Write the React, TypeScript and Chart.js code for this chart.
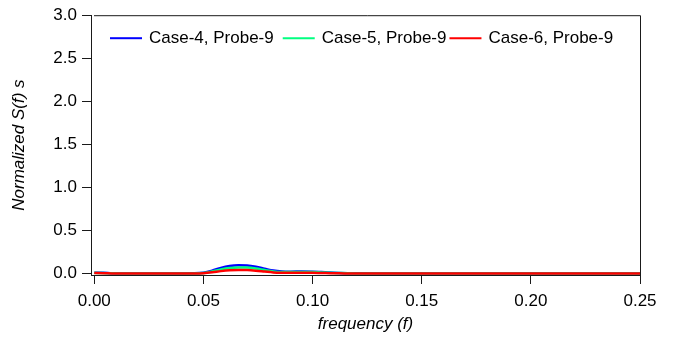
import React, { useEffect, useRef } from 'react';
import { Chart, registerables } from 'chart.js';

Chart.register(...registerables);

const frequency = [0, 0.004, 0.008, 0.012, 0.02, 0.03, 0.04, 0.045, 0.05, 0.054, 0.058, 0.062, 0.066, 0.07, 0.074, 0.078, 0.082, 0.086, 0.09, 0.095, 0.1, 0.104, 0.108, 0.112, 0.116, 0.12, 0.13, 0.15, 0.2, 0.25];
const case4Probe9 = [0.012, 0.01, 0.005, 0.002, 0.001, 0.001, 0.002, 0.004, 0.012, 0.035, 0.068, 0.09, 0.098, 0.095, 0.08, 0.058, 0.036, 0.026, 0.024, 0.025, 0.024, 0.019, 0.013, 0.009, 0.006, 0.004, 0.002, 0.001, 0.001, 0.001];
const case5Probe9 = [0.01, 0.008, 0.004, 0.002, 0.001, 0.001, 0.002, 0.003, 0.009, 0.026, 0.05, 0.066, 0.073, 0.071, 0.06, 0.043, 0.027, 0.02, 0.019, 0.02, 0.019, 0.015, 0.011, 0.008, 0.005, 0.003, 0.002, 0.001, 0.001, 0.001];
const case6Probe9 = [0.008, 0.006, 0.003, 0.001, 0.001, 0.001, 0.001, 0.002, 0.006, 0.016, 0.03, 0.04, 0.044, 0.042, 0.035, 0.025, 0.015, 0.011, 0.01, 0.011, 0.01, 0.008, 0.006, 0.004, 0.003, 0.002, 0.001, 0.001, 0.001, 0.001];

const seriesLabels = ['Case-4, Probe-9', 'Case-5, Probe-9', 'Case-6, Probe-9'];
const seriesColors = ['#0000FF', '#00FF80', '#FF0000'];
const seriesValues = [case4Probe9, case5Probe9, case6Probe9];
const legendGaps = [9, 3, 0];

const xTickValues = [0, 0.05, 0.1, 0.15, 0.2, 0.25];
const xTickLabels = ['0.00', '0.05', '0.10', '0.15', '0.20', '0.25'];
const yTickValues = [0, 0.5, 1, 1.5, 2, 2.5, 3];
const yTickLabels = ['0.0', '0.5', '1.0', '1.5', '2.0', '2.5', '3.0'];

const FONT = "'Liberation Sans', Arial, sans-serif";
const AXIS_COLOR = '#1a1a1a';

const framePlugin = {
  id: 'frame',
  afterDraw(chart: any) {
    const { ctx, chartArea: a } = chart;
    ctx.save();
    ctx.strokeStyle = AXIS_COLOR;
    ctx.lineWidth = 1;
    ctx.beginPath();
    ctx.moveTo(a.left + 3, a.top + 0.5);
    ctx.lineTo(a.right + 0.5, a.top + 0.5);
    ctx.lineTo(a.right + 0.5, a.bottom);
    ctx.stroke();
    ctx.restore();
  },
};

const legendPlugin = {
  id: 'insideLegend',
  afterDraw(chart: any) {
    const { ctx, chartArea: a } = chart;
    ctx.save();
    ctx.font = `17px ${FONT}`;
    ctx.textBaseline = 'middle';
    ctx.textAlign = 'left';
    let x = a.left + 19;
    const y = a.top + 23;
    chart.data.datasets.forEach((ds: any, i: number) => {
      ctx.strokeStyle = ds.borderColor;
      ctx.lineWidth = 2;
      ctx.beginPath();
      ctx.moveTo(x, y);
      ctx.lineTo(x + 32, y);
      ctx.stroke();
      x += 39;
      ctx.fillStyle = '#000';
      ctx.fillText(ds.label, x, y);
      x += ctx.measureText(ds.label).width + legendGaps[i];
    });
    ctx.restore();
  },
};

export default function App() {
  const canvasRef = useRef<HTMLCanvasElement | null>(null);

  useEffect(() => {
    if (!canvasRef.current) return;
    Chart.defaults.font.family = FONT;
    Chart.defaults.font.size = 17;
    Chart.defaults.color = '#000';

    const datasets = seriesValues.map((vals, i) => ({
      label: seriesLabels[i],
      data: frequency.map((f, j) => ({ x: f, y: vals[j] })),
      borderColor: seriesColors[i],
      backgroundColor: seriesColors[i],
      borderWidth: 2.5,
      pointRadius: 0,
      fill: false,
      cubicInterpolationMode: 'monotone' as const,
      order: seriesValues.length - i,
    }));

    const chart = new Chart(canvasRef.current, {
      type: 'line',
      data: { datasets },
      options: {
        animation: false,
        responsive: false,
        layout: { padding: { top: 15, right: 35, left: 0, bottom: 0 } },
        plugins: { legend: { display: false }, tooltip: { enabled: false } },
        scales: {
          x: {
            type: 'linear',
            min: -0.0015,
            max: 0.25,
            afterBuildTicks: (s: any) => {
              s.ticks = xTickValues.map((v) => ({ value: v }));
            },
            afterFit: (s: any) => {
              s.height = 64;
            },
            ticks: {
              callback: (_v: any, i: number) => xTickLabels[i],
              padding: 7,
              maxRotation: 0,
              color: '#000',
              font: { size: 17 },
            },
            grid: { drawOnChartArea: false, drawTicks: true, tickLength: 9, color: AXIS_COLOR },
            border: { display: true, color: AXIS_COLOR, width: 1 },
            title: {
              display: true,
              text: 'frequency (f)',
              color: '#000',
              font: { size: 17, style: 'italic' },
              padding: { top: 0, bottom: 5 },
            },
          },
          y: {
            type: 'linear',
            min: -0.015,
            max: 3.0,
            afterBuildTicks: (s: any) => {
              s.ticks = yTickValues.map((v) => ({ value: v }));
            },
            afterFit: (s: any) => {
              s.width = 91;
            },
            ticks: {
              callback: (_v: any, i: number) => yTickLabels[i],
              padding: 5,
              color: '#000',
              font: { size: 17 },
            },
            grid: { drawOnChartArea: false, drawTicks: true, tickLength: 9, color: AXIS_COLOR },
            border: { display: true, color: AXIS_COLOR, width: 1 },
            title: {
              display: true,
              text: 'Normalized S(f) s',
              color: '#000',
              font: { size: 17, style: 'italic' },
              padding: { top: 9, bottom: 0 },
            },
          },
        },
      },
      plugins: [framePlugin, legendPlugin],
    });

    return () => chart.destroy();
  }, []);

  return (
    <div style={{ position: 'fixed', left: 0, top: 0, width: 675, height: 339, background: '#fff' }}>
      <canvas ref={canvasRef} width={675} height={339} style={{ display: 'block' }} />
    </div>
  );
}
